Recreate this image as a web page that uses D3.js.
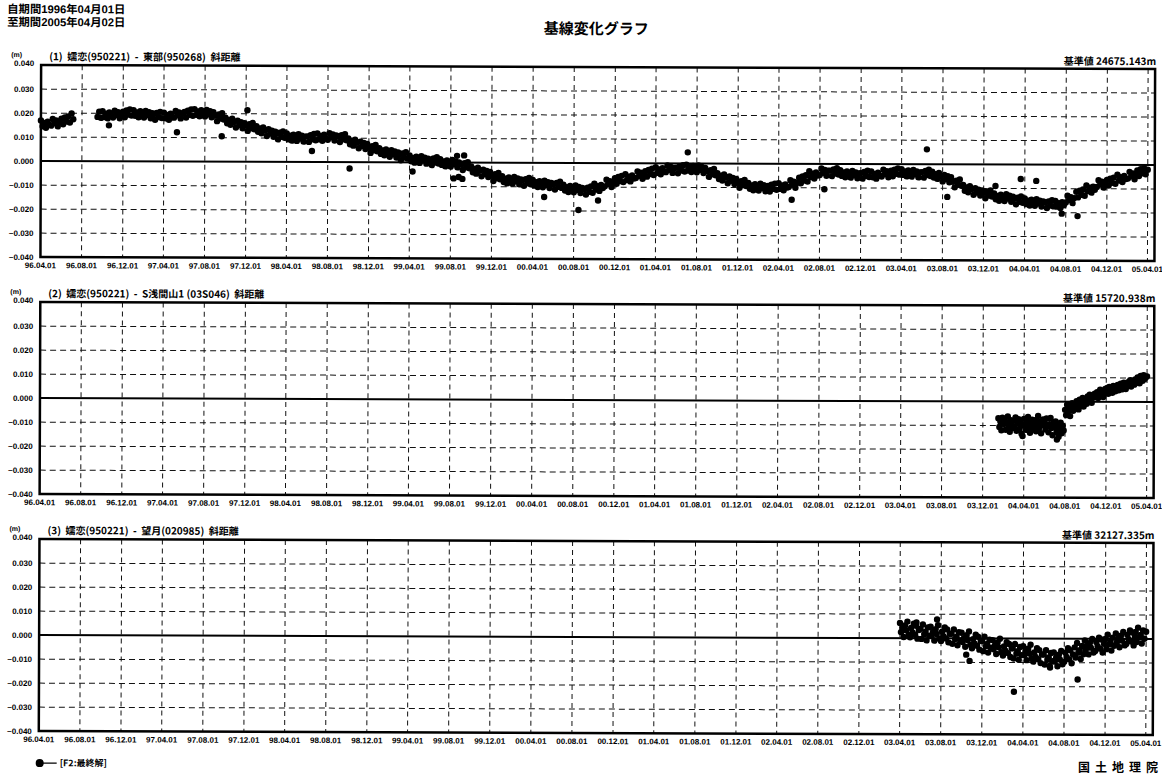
<!DOCTYPE html>
<html><head><meta charset="utf-8">
<script src="https://cdn.jsdelivr.net/npm/d3@7"></script>
<style>
body{margin:0;background:#fff}
text{font-family:"Liberation Sans",Arial,sans-serif;fill:#000}
.jp{font-family:"Noto Sans CJK JP","Noto Sans",sans-serif}
.hd{font-family:"Liberation Sans","Noto Sans CJK JP",sans-serif}
</style>
</head><body>
<svg id="c" width="1162" height="775"></svg>
<script>
// ---------------- texts ----------------
const headerLines = ["自期間1996年04月01日", "至期間2005年04月02日"];
const chartTitle = "基線変化グラフ";
const panelTitles = [
  "(1)  嬬恋(950221)  -  東部(950268)  斜距離",
  "(2)  嬬恋(950221)  -  S浅間山1 (03S046)  斜距離",
  "(3)  嬬恋(950221)  -  望月(020985)  斜距離"
];
const baseValues = ["基準値 24675.143m", "基準値 15720.938m", "基準値 32127.335m"];
const yTicks = [0.04, 0.03, 0.02, 0.01, 0.0, -0.01, -0.02, -0.03, -0.04];
const xTickLabels = ["96.04.01","96.08.01","96.12.01","97.04.01","97.08.01","97.12.01",
  "98.04.01","98.08.01","98.12.01","99.04.01","99.08.01","99.12.01","00.04.01","00.08.01",
  "00.12.01","01.04.01","01.08.01","01.12.01","02.04.01","02.08.01","02.12.01","03.04.01",
  "03.08.01","03.12.01","04.04.01","04.08.01","04.12.01","05.04.01"];
const legendLabel = "[F2:最終解]";
const footer = "国土地理院";

// ---------------- data (mm), one row per month, samples spread evenly over the month ----------------
const s1StartMonth = "1996-04";
const s1 = [
[16.9,14.5,15.9,13.9,16.4,15.1],[14.8,17.6,15.8,17.0,14.5,16.6],[17.7,15.4,18.2,16.5,18.7,16.1],
[19.9,17.5,null,null,null,null],[null,null,null,null,null,null],[null,null,null,18.5,20.7,18.1],
[20.9,18.5,19.9,17.9,20.4,19.1],[18.3,21.1,19.3,20.5,18.0,20.1],[20.7,18.4,21.2,19.5,21.7,19.1],
[21.4,19.0,20.4,18.4,20.9,19.6],[18.3,21.1,19.3,20.5,18.0,20.1],[19.7,17.4,20.2,18.5,20.7,18.1],
[20.4,18.0,19.4,17.4,19.9,18.6],[18.3,21.1,19.3,20.5,18.0,20.1],[20.7,18.4,21.2,19.5,21.7,19.1],
[21.9,19.5,20.9,18.9,21.4,20.1],[18.8,21.6,19.8,21.0,18.5,20.6],[19.2,16.9,19.7,18.0,20.2,17.6],
[18.4,16.0,17.4,15.4,17.9,16.6],[14.3,17.1,15.3,16.5,14.0,16.1],[15.2,12.9,15.7,14.0,16.2,13.6],
[14.9,12.5,13.9,11.9,14.4,13.1],[10.8,13.6,11.8,13.0,10.5,12.6],[11.7,9.4,12.2,10.5,12.7,10.1],
[11.9,9.5,10.9,8.9,11.4,10.1],[8.8,11.6,9.8,11.0,8.5,10.6],[10.7,8.4,11.2,9.5,11.7,9.1],
[11.9,9.5,10.9,8.9,11.4,10.1],[9.3,12.1,10.3,11.5,9.0,11.1],[10.7,8.4,11.2,9.5,11.7,9.1],
[9.9,7.5,8.9,6.9,9.4,8.1],[5.8,8.6,6.8,8.0,5.5,7.6],[6.2,3.9,6.7,5.0,7.2,4.6],
[5.9,3.5,4.9,2.9,5.4,4.1],[2.3,5.1,3.3,4.5,2.0,4.1],[3.2,0.9,3.7,2.0,4.2,1.6],
[2.9,0.5,1.9,-0.1,2.4,1.1],[-0.2,2.6,0.8,2.0,-0.5,1.6],[1.2,-1.1,1.7,0.0,2.2,-0.4],
[1.4,-1.0,0.4,-1.6,0.9,-0.4],[-1.7,1.1,-0.7,0.5,-2.0,0.1],[-0.8,-3.1,-0.3,-2.0,0.2,-2.4],
[-1.6,-4.0,-2.6,-4.6,-2.1,-3.4],[-5.7,-2.9,-4.7,-3.5,-6.0,-3.9],[-5.3,-7.6,-4.8,-6.5,-4.3,-6.9],
[-5.6,-8.0,-6.6,-8.6,-6.1,-7.4],[-8.7,-5.9,-7.7,-6.5,-9.0,-6.9],[-7.3,-9.6,-6.8,-8.5,-6.3,-8.9],
[-7.1,-9.5,-8.1,-10.1,-7.6,-8.9],[-10.2,-7.4,-9.2,-8.0,-10.5,-8.4],[-8.8,-11.1,-8.3,-10.0,-7.8,-10.4],
[-9.1,-11.5,-10.1,-12.1,-9.6,-10.9],[-12.2,-9.4,-11.2,-10.0,-12.5,-10.4],[-10.8,-13.1,-10.3,-12.0,-9.8,-12.4],
[-8.6,-11.0,-9.6,-11.6,-9.1,-10.4],[-9.7,-6.9,-8.7,-7.5,-10.0,-7.9],[-6.3,-8.6,-5.8,-7.5,-5.3,-7.9],
[-4.6,-7.0,-5.6,-7.6,-5.1,-6.4],[-6.2,-3.4,-5.2,-4.0,-6.5,-4.4],[-3.3,-5.6,-2.8,-4.5,-2.3,-4.9],
[-1.6,-4.0,-2.6,-4.6,-2.1,-3.4],[-3.7,-0.9,-2.7,-1.5,-4.0,-1.9],[-1.8,-4.1,-1.3,-3.0,-0.8,-3.4],
[-0.6,-3.0,-1.6,-3.6,-1.1,-2.4],[-3.7,-0.9,-2.7,-1.5,-4.0,-1.9],[-3.3,-5.6,-2.8,-4.5,-2.3,-4.9],
[-4.1,-6.5,-5.1,-7.1,-4.6,-5.9],[-8.2,-5.4,-7.2,-6.0,-8.5,-6.4],[-7.8,-10.1,-7.3,-9.0,-6.8,-9.4],
[-8.1,-10.5,-9.1,-11.1,-8.6,-9.9],[-11.2,-8.4,-10.2,-9.0,-11.5,-9.4],[-9.3,-11.6,-8.8,-10.5,-8.3,-10.9],
[-8.1,-10.5,-9.1,-11.1,-8.6,-9.9],[-9.7,-6.9,-8.7,-7.5,-10.0,-7.9],[-5.8,-8.1,-5.3,-7.0,-4.8,-7.4],
[-3.1,-5.5,-4.1,-6.1,-3.6,-4.9],[-4.7,-1.9,-3.7,-2.5,-5.0,-2.9],[-2.8,-5.1,-2.3,-4.0,-1.8,-4.4],
[-2.6,-5.0,-3.6,-5.6,-3.1,-4.4],[-5.7,-2.9,-4.7,-3.5,-6.0,-3.9],[-3.8,-6.1,-3.3,-5.0,-2.8,-5.4],
[-3.1,-5.5,-4.1,-6.1,-3.6,-4.9],[-5.2,-2.4,-4.2,-3.0,-5.5,-3.4],[-2.8,-5.1,-2.3,-4.0,-1.8,-4.4],
[-2.1,-4.5,-3.1,-5.1,-2.6,-3.9],[-5.2,-2.4,-4.2,-3.0,-5.5,-3.4],[-3.3,-5.6,-2.8,-4.5,-2.3,-4.9],
[-3.1,-5.5,-4.1,-6.1,-3.6,-4.9],[-7.2,-4.4,-6.2,-5.0,-7.5,-5.4],[-7.3,-9.6,-6.8,-8.5,-6.3,-8.9],
[-8.6,-11.0,-9.6,-11.6,-9.1,-10.4],[-12.7,-9.9,-11.7,-10.5,-13.0,-10.9],[-11.8,-14.1,-11.3,-13.0,-10.8,-13.4],
[-12.1,-14.5,-13.1,-15.1,-12.6,-13.9],[-15.2,-12.4,-14.2,-13.0,-15.5,-13.4],[-14.3,-16.6,-13.8,-15.5,-13.3,-15.9],
[-14.1,-16.5,-15.1,-17.1,-14.6,-15.9],[-17.2,-14.4,-16.2,-15.0,-17.5,-15.4],[-15.8,-18.1,-15.3,-17.0,-14.8,-17.4],
[-15.1,-17.5,-16.1,-18.1,-15.6,-16.9],[-15.7,-12.9,-14.7,-13.5,-16.0,-13.9],[-11.3,-13.6,-10.8,-12.5,-10.3,-12.9],
[-8.6,-11.0,-9.6,-11.6,-9.1,-10.4],[-9.2,-6.4,-8.2,-7.0,-9.5,-7.4],[-6.3,-8.6,-5.8,-7.5,-5.3,-7.9],
[-4.1,-6.5,-5.1,-7.1,-4.6,-5.9],[-5.7,-2.9,-4.7,-3.5,-6.0,-3.9],[-2.3,-4.6,-1.8,-3.5,-1.3,-3.9],
[-2.0]
];
const s1Outliers = [["1996-10-20",15.0],["1997-05-10",12.2],["1997-12-05",21.5],["1997-09-20",10.6],
  ["1998-06-15",4.6],["1998-10-05",-2.6],["1999-04-10",-3.8],["1999-08-10",-6.6],["1999-08-25",-6.0],
  ["1999-09-05",-6.8],["1999-08-20",2.8],["1999-09-10",3.0],["2000-05-05",-14.2],["2000-08-15",-19.6],
  ["2000-10-12",-15.6],["2001-07-05",4.6],["2002-05-10",-15.0],["2002-08-15",-10.6],["2003-06-15",6.2],
  ["2003-08-15",-13.6],["2004-01-05",-9.0],["2004-03-20",-6.0],["2004-05-05",-6.8],["2004-07-20",-20.4],
  ["2004-09-05",-21.4]];

const s2StartMonth = "2004-01";
const s2 = [
[null,null,null,null,null,-7.0,-10.6,-8.4,-12.0,-6.8],
[-9.4,-7.6,-11.8,-8.8,-6.2,-10.2,-12.6,-7.8,-9.8,-11.0],
[-8.0,-10.8,-6.6,-12.2,-9.2,-7.4,-11.4,-8.6,-13.4,-10.0],
[-7.2,-9.6,-11.8,-8.2,-6.4,-10.6,-13.0,-9.0,-7.6,-11.2],
[-10.4,-7.8,-12.4,-9.0,-6.0,-11.0,-8.4,-13.2,-9.8,-7.4],
[-8.8,-11.6,-7.0,-10.2,-12.8,-9.4,-6.8,-11.0,-14.0,-8.6],
[-10.6,-8.2,-12.6,-9.6,-14.6,-11.2,-8.8,-13.2,-10.0,-12.0],
[-3.4,-5.6,-1.2,-4.0,-2.2,-6.0,-2.8,-0.6,-3.8,-1.6],
[-2.4,0.2,-1.0,-3.2,0.8,-1.8,-0.2,1.6,-2.0,0.4],
[1.0,-0.8,2.2,0.4,3.0,1.4,-0.4,2.6,1.8,3.4],
[2.4,4.0,1.6,3.4,5.0,2.8,4.4,2.0,3.8,5.4],
[4.0,5.8,3.4,6.2,4.6,5.2,3.8,6.6,5.0,4.4],
[5.6,7.0,4.8,6.4,7.6,5.2,6.8,8.0,6.0,5.4],
[6.6,8.2,7.0,9.0,6.4,7.8,8.6,7.2,9.4,8.0],
[8.4,10.2,9.0,7.8,10.8,9.4,8.8,11.2,9.6,10.4],
[10.6]
];
const s2Outliers = [["2004-07-08",-15.8],["2004-03-28",-14.4]];

const s3StartMonth = "2003-04";
const s3 = [
[6.3,2.5,4.1,0.5,5.3,3.3,6.9,1.3],[0.4,4.2,2.4,6.0,1.4,5.2,-0.2,3.4],[3.9,-0.3,5.7,1.7,2.7,-0.9,4.5,1.1],
[4.8,1.0,2.6,-1.0,3.8,1.8,5.4,-0.2],[-1.1,2.7,0.9,4.5,-0.1,3.7,-1.7,1.9],[1.9,-2.3,3.7,-0.3,0.7,-2.9,2.5,-0.9],
[2.3,-1.5,0.1,-3.5,1.3,-0.7,2.9,-2.7],[-4.1,-0.3,-2.1,1.5,-3.1,0.7,-4.7,-1.1],[-1.1,-5.3,0.7,-3.3,-2.3,-5.9,-0.5,-3.9],
[-0.7,-4.5,-2.9,-6.5,-1.7,-3.7,-0.1,-5.7],[-7.1,-3.3,-5.1,-1.5,-6.1,-2.3,-7.7,-4.1],[-4.1,-8.3,-2.3,-6.3,-5.3,-8.9,-3.5,-6.9],
[-3.2,-7.0,-5.4,-9.0,-4.2,-6.2,-2.6,-8.2],[-9.6,-5.8,-7.6,-4.0,-8.6,-4.8,-10.2,-6.6],[-6.6,-10.8,-4.8,-8.8,-7.8,-11.4,-6.0,-9.4],
[-5.7,-9.5,-7.9,-11.5,-6.7,-8.7,-5.1,-10.7],[-9.6,-5.8,-7.6,-4.0,-8.6,-4.8,-10.2,-6.6],[-3.6,-7.8,-1.8,-5.8,-4.8,-8.4,-3.0,-6.4],
[-0.7,-4.5,-2.9,-6.5,-1.7,-3.7,-0.1,-5.7],[-5.1,-1.3,-3.1,0.5,-4.1,-0.3,-5.7,-2.1],[-0.1,-4.3,1.7,-2.3,-1.3,-4.9,0.5,-2.9],
[2.3,-1.5,0.1,-3.5,1.3,-0.7,2.9,-2.7],[-2.1,1.7,-0.1,3.5,-1.1,2.7,-2.7,0.9],[2.9,-1.3,4.7,0.7,1.7,-1.9,3.5,0.1],
[3.0]
];
const s3Outliers = [["2003-07-20",7.8],["2003-05-20",6.6],["2003-10-15",-6.8],["2003-10-25",-9.4],
  ["2004-03-05",-22.2],["2004-06-20",-12.0],["2004-09-10",-17.0]];

// ---------------- build ----------------
function expand(startMonth, groups, outliers) {
  const [y0, m0] = startMonth.split("-").map(Number);
  const pts = [];
  groups.forEach((g, i) => {
    g.forEach((v, j) => {
      if (v === null) return;
      const day = 1 + Math.floor(j * 30 / Math.max(g.length, 1));
      pts.push({date: new Date(y0, m0 - 1 + i, day), v: v / 1000});
    });
  });
  const p = d3.timeParse("%Y-%m-%d");
  outliers.forEach(([d, v]) => pts.push({date: p(d), v: v / 1000}));
  return pts;
}
const series = [
  expand(s1StartMonth, s1, s1Outliers),
  expand(s2StartMonth, s2, s2Outliers),
  expand(s3StartMonth, s3, s3Outliers)
];

const svg = d3.select("#c");
const root = svg.append("g").attr("transform", "rotate(0.2,581,387)");

const left = 40, right = 1154;
const parseTick = d3.timeParse("%y.%m.%d");
const tickDates = xTickLabels.map(parseTick);
const x = d3.scaleTime().domain([tickDates[0], tickDates[tickDates.length - 1]]).range([left, 1147]);
const tops = [67, 304, 541];
const ph = 192;

// header
root.selectAll("text.hdr").data(headerLines).join("text")
  .attr("class", "hd").attr("x", 6).attr("y", (d, i) => 15 + i * 13)
  .attr("font-size", 11.3).attr("font-weight", 700).text(d => d);
root.append("text").attr("class", "jp").attr("x", 595).attr("y", 34)
  .attr("text-anchor", "middle").attr("font-size", 15).attr("font-weight", 700).text(chartTitle);

tops.forEach((top, k) => {
  const bottom = top + ph;
  const y = d3.scaleLinear().domain([-0.04, 0.04]).range([bottom, top]);
  const g = root.append("g");

  g.selectAll("line.hg").data(yTicks.filter(t => Math.abs(t) > 1e-9 && Math.abs(t) < 0.039)).join("line")
    .attr("x1", left).attr("x2", right).attr("y1", d => y(d)).attr("y2", d => y(d))
    .attr("stroke", "#111").attr("stroke-width", 1).attr("stroke-dasharray", "6,4");
  g.selectAll("line.vg").data(tickDates.slice(1)).join("line")
    .attr("x1", d => x(d)).attr("x2", d => x(d)).attr("y1", top).attr("y2", bottom)
    .attr("stroke", "#111").attr("stroke-width", 1).attr("stroke-dasharray", "5,4");
  g.append("line").attr("x1", left).attr("x2", right).attr("y1", y(0)).attr("y2", y(0))
    .attr("stroke", "#000").attr("stroke-width", 2);

  g.selectAll("circle").data(series[k]).join("circle")
    .attr("cx", d => x(d.date)).attr("cy", d => y(d.v)).attr("r", 3.2).attr("fill", "#000");

  g.append("rect").attr("x", left).attr("y", top).attr("width", right - left).attr("height", ph)
    .attr("fill", "none").attr("stroke", "#000").attr("stroke-width", 2.5);

  g.selectAll("text.yt").data(yTicks).join("text")
    .attr("x", 33).attr("y", d => y(d) + (Math.abs(d - 0.04) < 1e-9 ? 1 : 3))
    .attr("text-anchor", "end").attr("font-size", 8).attr("font-weight", 700)
    .text(d => d3.format(".3f")(d));
  g.append("text").attr("x", 10).attr("y", top - 8).attr("font-size", 7).attr("font-weight", 700).text("(m)");

  g.selectAll("text.xt").data(tickDates).join("text")
    .attr("x", d => x(d)).attr("y", bottom + 11).attr("text-anchor", "middle")
    .attr("font-size", 8).attr("font-weight", 700).text((d, i) => xTickLabels[i]);

  g.append("text").attr("class", "jp").attr("x", 48).attr("y", top - 5)
    .attr("font-size", 10).attr("font-weight", 600).style("white-space", "pre").text(panelTitles[k]);
  g.append("text").attr("class", "jp").attr("x", 1155).attr("y", top - 4)
    .attr("text-anchor", "end").attr("font-size", 10).attr("font-weight", 700).text(baseValues[k]);
});

const lg = root.append("g");
lg.append("circle").attr("cx", 41).attr("cy", 765).attr("r", 4).attr("fill", "#000");
lg.append("line").attr("x1", 44).attr("x2", 58).attr("y1", 765).attr("y2", 765).attr("stroke", "#000").attr("stroke-width", 1.2);
lg.append("text").attr("class", "jp").attr("x", 61).attr("y", 768).attr("font-size", 9).attr("font-weight", 600).text(legendLabel);
svg.append("text").attr("class", "jp").attr("x", 1163).attr("y", 772).attr("text-anchor", "end")
  .attr("font-size", 12).attr("font-weight", 700).attr("letter-spacing", 5).text(footer);
</script>
</body></html>
